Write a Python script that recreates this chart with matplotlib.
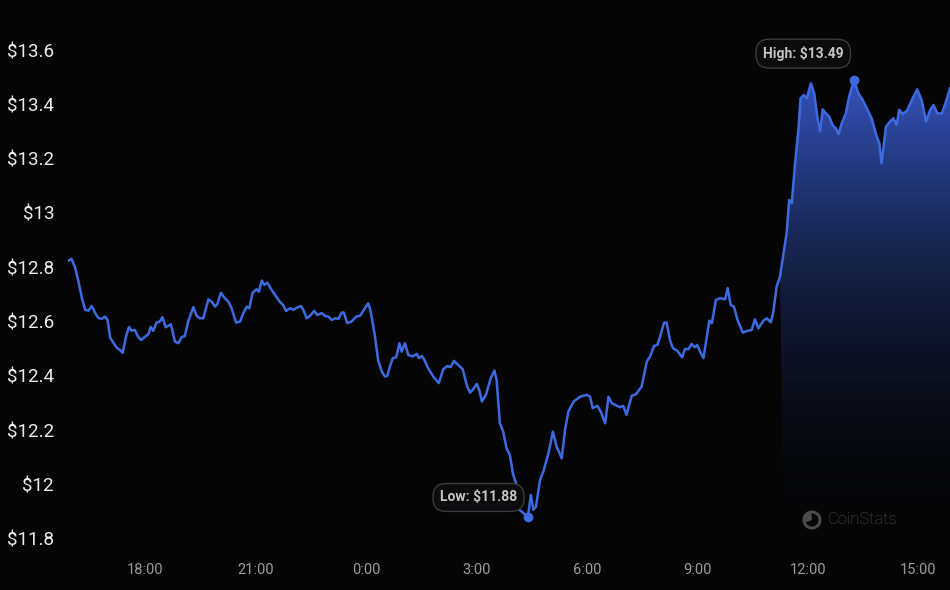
import numpy as np
import matplotlib
matplotlib.use("Agg")
import matplotlib.pyplot as plt
from matplotlib.patches import Wedge
from matplotlib.path import Path

# ---- data (hours since 0:00 of first day, price in USD) ----
hours = [15.90, 15.99, 16.08, 16.17, 16.27, 16.36, 16.45, 16.54, 16.63, 16.72, 16.81, 16.90, 16.97,
         17.04, 17.13, 17.22, 17.31, 17.38, 17.47, 17.55, 17.62, 17.71, 17.80, 17.88, 17.99,
         18.08, 18.14, 18.21, 18.30, 18.39, 18.46, 18.55, 18.69, 18.80, 18.89, 18.98, 19.07,
         19.16, 19.30, 19.39, 19.48, 19.57, 19.71, 19.80, 19.89, 19.95, 20.05, 20.13, 20.25,
         20.34, 20.46, 20.57, 20.66, 20.75, 20.82, 20.91, 21.02, 21.08, 21.16, 21.23, 21.31,
         21.43, 21.55, 21.65, 21.74, 21.82, 21.93, 22.02, 22.11, 22.22, 22.29, 22.38, 22.47,
         22.58, 22.67, 22.79, 22.88, 22.97, 23.06, 23.15, 23.24, 23.33, 23.39, 23.48, 23.60,
         23.72, 23.83, 23.96, 24.05, 24.11, 24.23, 24.32, 24.42, 24.51, 24.57, 24.64, 24.72,
         24.81, 24.90, 24.96, 25.05, 25.14, 25.26, 25.37, 25.43, 25.51, 25.57, 25.68, 25.82,
         25.97, 26.09, 26.20, 26.29, 26.38, 26.53, 26.62, 26.74, 26.82, 26.89, 27.00, 27.07,
         27.14, 27.25, 27.38, 27.48, 27.54, 27.63, 27.72, 27.81, 27.90, 27.99, 28.07, 28.16,
         28.27, 28.39, 28.47, 28.54, 28.61, 28.72, 28.81, 28.95, 29.07, 29.17, 29.31, 29.40,
         29.49, 29.63, 29.81, 29.99, 30.08, 30.15, 30.28, 30.37, 30.49, 30.58, 30.67, 30.80,
         30.89, 30.98, 31.07, 31.21, 31.33, 31.48, 31.62, 31.71, 31.82, 31.91, 31.98, 32.09,
         32.16, 32.25, 32.33, 32.45, 32.58, 32.66, 32.75, 32.84, 32.93, 32.99, 33.07, 33.16,
         33.25, 33.32, 33.39, 33.50, 33.61, 33.75, 33.82, 33.90, 33.99, 34.08, 34.23, 34.34,
         34.47, 34.56, 34.65, 34.79, 34.88, 34.99, 35.06, 35.15, 35.24, 35.35, 35.42, 35.49,
         35.56, 35.65, 35.74, 35.80, 35.89, 35.97, 36.08, 36.17, 36.26, 36.33, 36.40, 36.49,
         36.58, 36.67, 36.76, 36.83, 36.92, 37.03, 37.12, 37.25, 37.37, 37.49, 37.60, 37.73,
         37.87, 37.94, 38.00, 38.12, 38.23, 38.32, 38.41, 38.48, 38.58, 38.69, 38.82, 38.97,
         39.09, 39.21, 39.32, 39.41, 39.52, 39.64, 39.75, 39.86]

prices = [12.824, 12.831, 12.802, 12.753, 12.687, 12.643, 12.640, 12.657, 12.632, 12.613, 12.610, 12.618, 12.606,
          12.540, 12.521, 12.503, 12.495, 12.485, 12.544, 12.580, 12.566, 12.569, 12.544, 12.532, 12.544,
          12.554, 12.580, 12.566, 12.596, 12.600, 12.616, 12.579, 12.590, 12.526, 12.520, 12.542, 12.547,
          12.600, 12.653, 12.621, 12.612, 12.612, 12.682, 12.673, 12.655, 12.664, 12.706, 12.690, 12.673,
          12.649, 12.596, 12.600, 12.631, 12.655, 12.649, 12.706, 12.719, 12.710, 12.751, 12.735, 12.743,
          12.716, 12.692, 12.673, 12.661, 12.639, 12.649, 12.643, 12.651, 12.657, 12.643, 12.612, 12.621,
          12.639, 12.624, 12.631, 12.621, 12.618, 12.606, 12.612, 12.610, 12.633, 12.633, 12.594, 12.600,
          12.618, 12.621, 12.649, 12.667, 12.643, 12.550, 12.458, 12.415, 12.397, 12.400, 12.434, 12.465,
          12.468, 12.520, 12.489, 12.520, 12.477, 12.471, 12.481, 12.465, 12.473, 12.461, 12.428, 12.397,
          12.373, 12.424, 12.436, 12.432, 12.455, 12.436, 12.424, 12.360, 12.338, 12.348, 12.370, 12.348,
          12.305, 12.330, 12.391, 12.419, 12.385, 12.225, 12.194, 12.133, 12.108, 12.035, 12.004, 11.906,
          11.894, 11.880, 11.961, 11.906, 11.918, 12.016, 12.047, 12.115, 12.194, 12.139, 12.096, 12.201,
          12.268, 12.305, 12.323, 12.330, 12.323, 12.281, 12.289, 12.268, 12.225, 12.323, 12.299, 12.290,
          12.284, 12.289, 12.256, 12.326, 12.333, 12.360, 12.452, 12.471, 12.510, 12.514, 12.544, 12.596,
          12.596, 12.532, 12.502, 12.492, 12.468, 12.499, 12.498, 12.517, 12.505, 12.514, 12.489, 12.465,
          12.544, 12.603, 12.594, 12.680, 12.686, 12.682, 12.723, 12.661, 12.655, 12.608, 12.559, 12.565,
          12.569, 12.608, 12.575, 12.603, 12.612, 12.597, 12.636, 12.729, 12.765, 12.864, 12.925, 13.048,
          13.036, 13.183, 13.306, 13.423, 13.435, 13.423, 13.478, 13.441, 13.349, 13.300, 13.382, 13.367,
          13.355, 13.324, 13.312, 13.291, 13.331, 13.367, 13.429, 13.490, 13.441, 13.416, 13.386, 13.349,
          13.281, 13.257, 13.183, 13.318, 13.337, 13.349, 13.324, 13.380, 13.365, 13.377, 13.416, 13.456,
          13.416, 13.337, 13.380, 13.398, 13.367, 13.367, 13.410, 13.460]

x_ticks = [18, 21, 24, 27, 30, 33, 36, 39]
x_labels = ["18:00", "21:00", "0:00", "3:00", "6:00", "9:00", "12:00", "15:00"]
y_ticks = [11.8, 12.0, 12.2, 12.4, 12.6, 12.8, 13.0, 13.2, 13.4, 13.6]
y_labels = ["$11.8", "$12", "$12.2", "$12.4", "$12.6", "$12.8", "$13", "$13.2", "$13.4", "$13.6"]

# ---- style ----
BG = "#050506"
LINE = "#3d6ae0"
FILL_FROM = 12.85   # gradient area shown where the line is above this level
plt.rcParams['font.family'] = ['Roboto', 'DejaVu Sans']

t = np.array(hours)
p = np.array(prices)

fig = plt.figure(figsize=(9.5, 5.9), dpi=100, facecolor=BG)
ax = fig.add_axes([68 / 950, 40 / 590, 1 - 68 / 950, 550 / 590])
ax.set_facecolor(BG)

ymin, ymax = 11.758, 13.785
ax.set_xlim(15.894, 39.86)
ax.set_ylim(ymin, ymax)

# gradient fill under the line
n = 256
s = np.linspace(0, 1, n)[:, None]
grad = np.zeros((n, 1, 4))
grad[..., 0] = 0.23
grad[..., 1] = 0.37
grad[..., 2] = 0.84
grad[..., 3] = 0.88 * s ** 2.0
im = ax.imshow(grad, aspect='auto', origin='lower',
               extent=[t[0], t[-1], ymin, p.max()], zorder=1, interpolation='bilinear')
fb = ax.fill_between(t, p, ymin, where=p > FILL_FROM, interpolate=True,
                     facecolor='none', edgecolor='none')
clip = Path.make_compound_path(*fb.get_paths())
im.set_clip_path(clip, ax.transData)

ax.plot(t, p, color=LINE, lw=1.8, zorder=3, solid_joinstyle='round')

# high / low markers
i_hi = int(np.argmax(p))
i_lo = int(np.argmin(p))
box = dict(boxstyle="round,pad=0.5,rounding_size=0.95", facecolor="#0b0b0d", edgecolor="#3a3a3c", lw=1)
for idx, lab, off in [(i_hi, "High", (-36.5, 19.0)), (i_lo, "Low", (-35.5, 14.0))]:
    ax.plot(t[idx], p[idx], 'o', color=LINE, ms=6, zorder=4)
    ax.annotate(f"{lab}: ${p[idx]:.2f}", xy=(t[idx], p[idx]), xytext=off,
                textcoords='offset points', ha='center', va='center',
                fontsize=10, fontweight='bold', color="#c4c4c4", bbox=box, zorder=5)

# axes styling
for sp in ax.spines.values():
    sp.set_visible(False)
ax.set_xticks(x_ticks)
ax.set_xticklabels(x_labels)
ax.set_yticks(y_ticks)
ax.set_yticklabels(y_labels)
ax.tick_params(axis='x', length=0, pad=9, labelsize=10.5, labelcolor="#9c9c9c")
ax.tick_params(axis='y', length=0, pad=10, labelsize=13.5, labelcolor="#ececec")
ax.grid(False)

# watermark
logo_c = (8.12, 0.70)
fig.add_artist(Wedge(logo_c, 0.095, 0, 360, width=0.03, facecolor="#4c4c4c",
                     edgecolor='none', transform=fig.dpi_scale_trans))
fig.add_artist(Wedge(logo_c, 0.07, 95, 200, facecolor="#4c4c4c",
                     edgecolor='none', transform=fig.dpi_scale_trans))
fig.text(828 / 950, 1 - 520 / 590, "CoinStats", color="#4e4e4e", fontsize=12,
         ha='left', va='center', fontweight='light')

fig.savefig("out.png", dpi=100, facecolor=BG)
